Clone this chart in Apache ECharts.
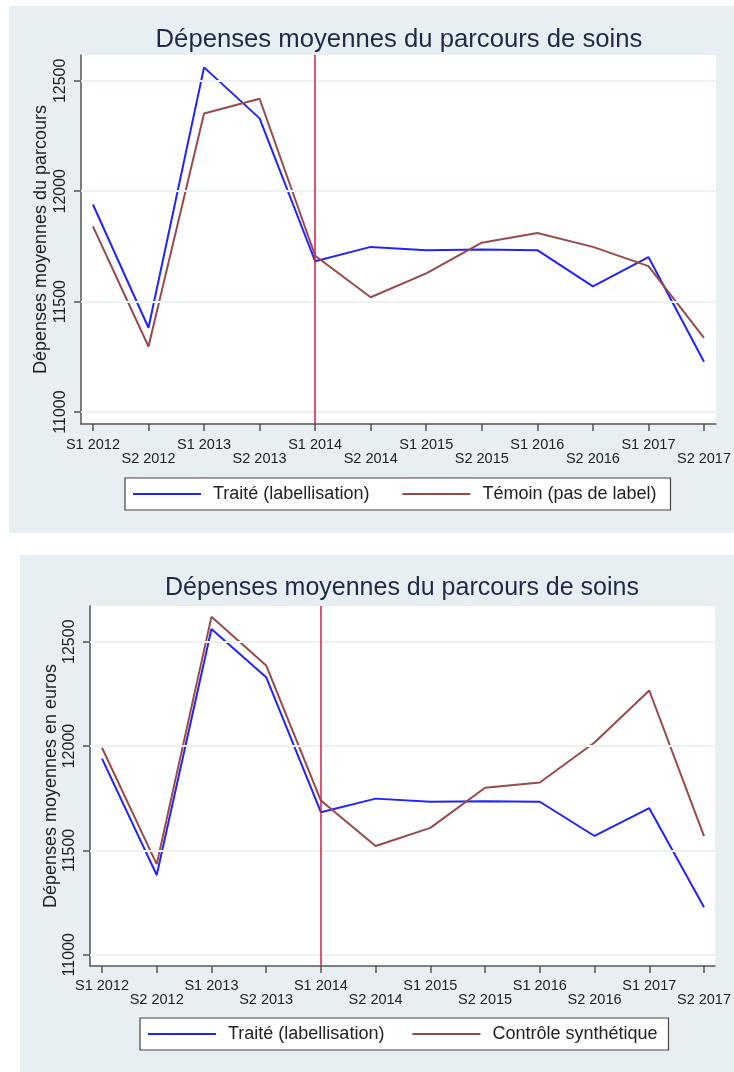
<!DOCTYPE html>
<html><head><meta charset="utf-8">
<script src="https://cdn.jsdelivr.net/npm/echarts@6/dist/echarts.min.js"></script>
<style>html,body{margin:0;padding:0;background:#fff}#c{width:734px;height:1072px}</style>
</head><body><div id="c"></div>
<script>
const periods = ['S1 2012','S2 2012','S1 2013','S2 2013','S1 2014','S2 2014','S1 2015','S2 2015','S1 2016','S2 2016','S1 2017','S2 2017'];
const traite = [11940,11382,12561,12330,11683,11748,11733,11736,11733,11569,11702,11228];
const temoin = [11841,11297,12352,12419,11708,11520,11628,11767,11811,11748,11661,11336];
const controle = [11992,11434,12619,12386,11739,11521,11608,11800,11825,12017,12266,11568];
const yTicks = [11000,11500,12000,12500];
const treatIndex = 4;
const title = 'Dépenses moyennes du parcours de soins';
const yName1 = 'Dépenses moyennes du parcours';
const yName2 = 'Dépenses moyennes en euros';
const nameTraite = 'Traité (labellisation)';
const nameTemoin = 'Témoin (pas de label)';
const nameControle = 'Contrôle synthétique';

const FONT = '"Liberation Sans", Arial, sans-serif';
const BLUE = '#2222ff', BROWN = '#984a4a', RED = '#d41e46', AXIS = '#555';
const xIdx = periods.map((_, i) => i);
const pts = arr => arr.map((v, i) => [i, v]);

function mkX(g, min, max, margin) {
  return {
    type: 'value', gridIndex: g, min: min, max: max,
    axisLine: {show: true, onZero: false, lineStyle: {color: AXIS, width: 1.5}},
    axisTick: {show: true, customValues: xIdx, length: 7, lineStyle: {color: AXIS, width: 1.5}},
    axisLabel: {customValues: xIdx, margin: margin, fontSize: 14.5, color: '#222', fontFamily: FONT, lineHeight: 14,
      formatter: v => { const i = Math.round(v); return i % 2 ? '\n' + periods[i] : periods[i]; }},
    splitLine: {show: false}
  };
}
function mkY(g, min, max, name, gap) {
  return {
    type: 'value', gridIndex: g, min: min, max: max,
    name: name, nameLocation: 'middle', nameRotate: 90, nameGap: gap, nameMoveOverlap: false,
    nameTextStyle: {fontSize: 18, color: '#222', fontFamily: FONT},
    axisLine: {show: true, onZero: false, lineStyle: {color: AXIS, width: 1.5}},
    axisTick: {show: true, customValues: yTicks, length: 7, lineStyle: {color: AXIS, width: 1.5}},
    axisLabel: {customValues: yTicks, rotate: 90, margin: 12, fontSize: 16, color: '#222', fontFamily: FONT,
      formatter: v => String(Math.round(v))},
    splitLine: {show: false}
  };
}
function guide(g, arr) {
  return {
    type: 'line', name: '_guide' + g, xAxisIndex: g, yAxisIndex: g, data: pts(arr), z: 1,
    symbol: 'none', lineStyle: {opacity: 0}, silent: true, animation: false,
    markLine: {
      silent: true, symbol: ['none', 'none'], label: {show: false}, animation: false,
      data: yTicks.map(v => ({yAxis: v, lineStyle: {color: '#ebf2f4', width: 2, type: 'solid'}}))
        .concat([{xAxis: treatIndex, lineStyle: {color: RED, width: 1.5, type: 'solid'}}])
    }
  };
}
function line(g, name, arr, color) {
  return {type: 'line', name: name, xAxisIndex: g, yAxisIndex: g, data: pts(arr), z: 3,
    symbol: 'none', showSymbol: false, animation: false,
    lineStyle: {color: color, width: 2}, itemStyle: {color: color}};
}
function legend(left, top, names, gap, padR) {
  return {left: left, top: top, orient: 'horizontal', padding: [7, padR, 7, 8], itemGap: gap,
    itemWidth: 68, itemHeight: 2, icon: 'rect', backgroundColor: '#fff', borderColor: '#444', borderWidth: 1.2,
    selectedMode: false, data: names,
    textStyle: {fontSize: 18, color: '#222', fontFamily: FONT, padding: [0, 0, 0, 7]}};
}

const chart = echarts.init(document.getElementById('c'), null, {renderer: 'canvas'});
chart.setOption({
  animation: false,
  backgroundColor: '#fff',
  graphic: [
    {type: 'rect', z: -10, shape: {x: 9, y: 6, width: 725, height: 527}, style: {fill: '#e8eff2'}},
    {type: 'rect', z: -10, shape: {x: 20, y: 555, width: 714, height: 517}, style: {fill: '#e8eff2'}}
  ],
  title: [
    {text: title, left: 399, top: 27, textAlign: 'center', padding: 0,
      textStyle: {fontSize: 25.7, fontWeight: 'normal', color: '#1f2a48', fontFamily: FONT}},
    {text: title, left: 402, top: 576, textAlign: 'center', padding: 0,
      textStyle: {fontSize: 25, fontWeight: 'normal', color: '#1f2a48', fontFamily: FONT}}
  ],
  grid: [
    {left: 81, top: 55, width: 638, height: 369, show: true, backgroundColor: '#fff', borderWidth: 0},
    {left: 90, top: 606, width: 625, height: 360, show: true, backgroundColor: '#fff', borderWidth: 0}
  ],
  xAxis: [mkX(0, -0.215, 11.215, 14), mkX(1, -0.219, 11.2, 13)],
  yAxis: [mkY(0, 10946, 12617, yName1, 31), mkY(1, 10946, 12671, yName2, 30)],
  legend: [legend(125, 478, [nameTraite, nameTemoin], 33, 14), legend(140, 1018, [nameTraite, nameControle], 28, 11)],
  series: [
    guide(0, traite), line(0, nameTraite, traite, BLUE), line(0, nameTemoin, temoin, BROWN),
    guide(1, traite), line(1, nameTraite, traite, BLUE), line(1, nameControle, controle, BROWN)
  ]
});
</script></body></html>
